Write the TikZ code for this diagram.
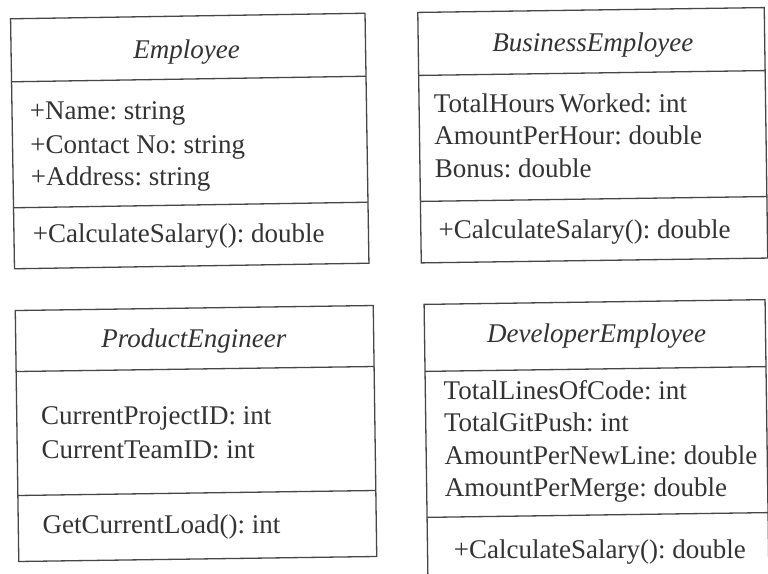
\documentclass[tikz,border=0pt]{standalone}
\usepackage{fontspec}
\setmainfont{Liberation Serif}
\definecolor{ink}{HTML}{333333}
\definecolor{rule}{HTML}{474747}
\tikzset{
  frame/.style={draw=rule, line width=1.3pt},
  classname/.style={font=\fontsize{27}{32}\selectfont\itshape, text=ink, inner sep=0pt, anchor=base},
  member/.style={font=\fontsize{27}{32}\selectfont, text=ink, inner sep=0pt, anchor=base west},
}
\begin{document}
\frenchspacing
\begin{tikzpicture}[x=1pt,y=-1pt]
\useasboundingbox (0,0) rectangle (768,573);
\fill[white] (0,0) rectangle (768,573);
\clip (0,0) rectangle (768,573);

% Employee
\begin{scope}[rotate around={0.9:(190,141)}]
  \draw[frame] (12.5,16) rectangle (367,266);
  \draw[frame] (12.5,79) -- (367,79);
  \draw[frame] (12.5,205) -- (367,205);
  \node[classname] (empT) at (188,58) {Employee};
  \node[member] (empA1) at (30,117) {+Name: string};
  \node[member] (empA2) at (30,151) {+Contact No: string};
  \node[member] (empA3) at (30,183) {+Address: string};
  \node[member] (empM1) at (31,240) {+CalculateSalary(): double};
\end{scope}

% BusinessEmployee
\begin{scope}[rotate around={0.8:(592,135)}]
  \draw[frame] (419.5,10) rectangle (766,260.5);
  \draw[frame] (419.5,73) -- (766,73);
  \draw[frame] (419.5,199) -- (766,199);
  \node[classname] (busT) at (594,52) {BusinessEmployee};
  \node[member] (busA1) at (434,110) {TotalHours\,Worked: int};
  \node[member] (busA2) at (434,142) {AmountPerHour: double};
  \node[member] (busA3) at (434,175) {Bonus: double};
  \node[member] (busM1) at (437,236) {+CalculateSalary(): double};
\end{scope}

% ProductEngineer
\begin{scope}[rotate around={0.8:(196,433)}]
  \draw[frame] (17,308) rectangle (375,559);
  \draw[frame] (17,369) -- (375,369);
  \draw[frame] (17,493) -- (375,493);
  \node[classname] (prodT) at (195,347) {ProductEngineer};
  \node[member] (prodA1) at (41,422) {CurrentProjectID: int};
  \node[member] (prodA2) at (41,456) {CurrentTeamID: int};
  \node[member] (prodM1) at (41,531) {GetCurrentLoad(): int};
\end{scope}

% DeveloperEmployee (runs past the lower edge)
\begin{scope}[rotate around={0.8:(596,440)}]
  \draw[frame] (426,302) rectangle (767,600);
  \draw[frame] (426,369) -- (767,369);
  \draw[frame] (426,515) -- (767,515);
  \node[classname] (devT) at (598,343) {DeveloperEmployee};
  \node[member] (devA1) at (444,397) {TotalLinesOfCode: int};
  \node[member] (devA2) at (444,429) {TotalGitPush: int};
  \node[member] (devA3) at (444,462) {AmountPerNewLine: double};
  \node[member] (devA4) at (444,494) {AmountPerMerge: double};
  \node[member] (devM1) at (452,556) {+CalculateSalary(): double};
\end{scope}
\end{tikzpicture}
\end{document}
